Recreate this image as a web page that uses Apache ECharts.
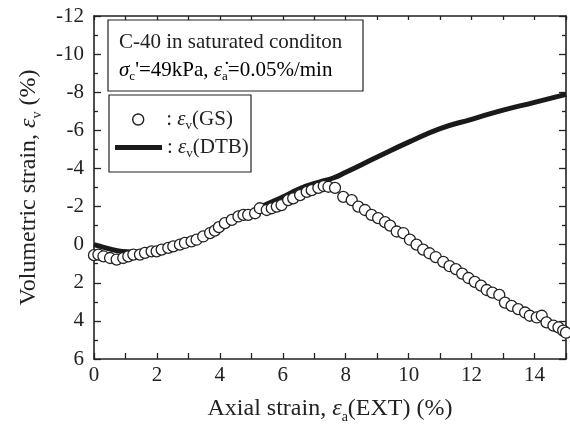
<!DOCTYPE html>
<html>
<head>
<meta charset="utf-8">
<script src="https://cdn.jsdelivr.net/npm/echarts@6/dist/echarts.min.js"></script>
<style>html,body{margin:0;padding:0;background:#fff;}#c{width:570px;height:429px;}</style>
</head>
<body>
<div id="c"></div>
<script>
// GS (volumetric strain from gauge) data
var gsX = [0.00,0.14,0.30,0.51,0.72,0.93,1.09,1.25,1.46,1.62,1.83,1.99,2.15,2.36,2.52,2.73,2.89,3.10,3.26,3.47,3.69,3.84,3.97,4.16,4.38,4.59,4.75,4.90,5.12,5.27,5.49,5.65,5.81,5.96,6.17,6.33,6.55,6.76,6.92,7.13,7.30,7.45,7.66,7.92,8.19,8.40,8.61,8.82,9.03,9.25,9.41,9.62,9.83,10.04,10.25,10.46,10.66,10.86,11.10,11.30,11.50,11.70,11.90,12.10,12.30,12.48,12.66,12.88,13.06,13.27,13.48,13.70,13.85,14.07,14.23,14.38,14.60,14.76,14.91,15.00];
var gsV = [0.55,0.52,0.61,0.70,0.78,0.70,0.61,0.52,0.52,0.43,0.35,0.35,0.26,0.17,0.09,0.00,-0.09,-0.17,-0.26,-0.43,-0.61,-0.74,-0.92,-1.13,-1.30,-1.48,-1.56,-1.56,-1.65,-1.91,-1.82,-1.91,-2.00,-2.08,-2.34,-2.43,-2.60,-2.77,-2.86,-2.98,-3.08,-3.04,-2.98,-2.51,-2.34,-2.00,-1.82,-1.56,-1.39,-1.18,-1.00,-0.69,-0.61,-0.26,0.00,0.26,0.45,0.65,0.90,1.13,1.28,1.52,1.75,1.95,2.15,2.38,2.52,2.64,3.04,3.21,3.38,3.56,3.73,3.82,3.73,4.08,4.25,4.34,4.51,4.62];
// DTB data
var dtbX = [0,0.4,0.9,1.5,2,2.5,3,3.5,4,4.5,5,5.4,6,6.55,7.18,7.6,8,9,10,11,12,13,14,15];
var dtbV = [0,0.18,0.36,0.40,0.28,0.08,-0.15,-0.45,-0.85,-1.30,-1.70,-2.05,-2.50,-2.95,-3.30,-3.50,-3.80,-4.60,-5.38,-6.09,-6.58,-7.06,-7.47,-7.89];
var xTicks = [0,2,4,6,8,10,12,14];
var yTicks = [-12,-10,-8,-6,-4,-2,0,2,4,6];

function pairs(a,b){ return a.map(function(v,i){ return [v,b[i]]; }); }

var FF = 'Liberation Serif';
var C = '#222';
var richBase = {
  t: {fontFamily: FF, fontSize: 24, color: C, lineHeight: 30},
  e: {fontFamily: FF, fontSize: 24, color: C, fontStyle: 'italic', lineHeight: 30},
  s: {fontFamily: FF, fontSize: 14, color: C, lineHeight: 14, verticalAlign: 'bottom'}
};
var richBox = {
  t: {fontFamily: FF, fontSize: 21, color: C, lineHeight: 26},
  e: {fontFamily: FF, fontSize: 21, color: C, fontStyle: 'italic', lineHeight: 26},
  s: {fontFamily: FF, fontSize: 13, color: C, lineHeight: 13, verticalAlign: 'bottom'}
};
function legendFmt(n){ return '{t|: }{e|ε}{s|v}{t|(' + n + ')}'; }

var chart = echarts.init(document.getElementById('c'));
var axisCommon = {
  type: 'value',
  axisLine: {show: true, onZero: false, lineStyle: {color: C, width: 1.6}},
  splitLine: {show: false}
};
chart.setOption({
  animation: false,
  backgroundColor: '#fff',
  grid: {left: 94, right: 4, top: 16, bottom: 67, containLabel: false},
  xAxis: [
    Object.assign({}, axisCommon, {
      position: 'bottom', min: 0, max: 15, interval: 1,
      axisTick: {show: true, inside: true, length: 6, lineStyle: {color: C, width: 1.3}},
      axisLabel: {fontFamily: FF, fontSize: 21, color: C, margin: 6,
        formatter: function(v){ return xTicks.indexOf(v) >= 0 ? String(v) : ''; }},
      name: '{t|Axial strain, }{e|ε}{s|a}{t|(EXT) (%)}',
      nameLocation: 'middle', nameGap: 35,
      nameTextStyle: {rich: richBase}
    }),
    Object.assign({}, axisCommon, {
      position: 'top', min: 0, max: 15, interval: 1,
      axisTick: {show: true, inside: true, length: 4, lineStyle: {color: C, width: 1.3}},
      axisLabel: {show: false}
    })
  ],
  yAxis: [
    Object.assign({}, axisCommon, {
      position: 'left', min: -12, max: 6, interval: 2, inverse: true,
      axisTick: {show: true, inside: true, length: 7, lineStyle: {color: C, width: 1.3}},
      minorTick: {show: true, splitNumber: 2, length: 4, lineStyle: {color: C, width: 1.3}},
      axisLabel: {fontFamily: FF, fontSize: 21, color: C, margin: 10,
        formatter: function(v){ return yTicks.indexOf(v) >= 0 ? String(v) : ''; }},
      name: '{t|Volumetric strain, }{e|ε}{s|v}{t| (%)}',
      nameLocation: 'middle', nameGap: 50,
      nameTextStyle: {rich: richBase}
    }),
    Object.assign({}, axisCommon, {
      position: 'right', min: -12, max: 6, interval: 2, inverse: true,
      axisTick: {show: true, inside: true, length: 7, lineStyle: {color: C, width: 1.3}},
      minorTick: {show: true, splitNumber: 2, length: 4, lineStyle: {color: C, width: 1.3}},
      axisLabel: {show: false}
    })
  ],
  legend: [
    {
      show: true, orient: 'vertical', left: 132, top: 109, z: 30, padding: 0,
      itemWidth: 46, itemHeight: 11,
      data: [{name: 'GS', icon: 'circle', itemStyle: {color: '#fff', borderColor: C, borderWidth: 1.4}}],
      formatter: legendFmt, textStyle: {rich: richBox}
    },
    {
      show: true, orient: 'vertical', left: 115, top: 137, z: 30, padding: 0,
      itemWidth: 47, itemHeight: 5,
      data: [{name: 'DTB', icon: 'rect', itemStyle: {color: '#1a1a1a', borderWidth: 0}}],
      formatter: legendFmt, textStyle: {rich: richBox}
    }
  ],
  graphic: [
    {type: 'rect', z: 10, shape: {x: 108, y: 20, width: 255, height: 71},
      style: {fill: '#fff', stroke: C, lineWidth: 1.2}},
    {type: 'text', z: 11, x: 119, y: 42,
      style: {text: 'C-40 in saturated conditon', fontFamily: FF, fontSize: 21, fill: C, verticalAlign: 'middle'}},
    {type: 'text', z: 11, x: 119, y: 70,
      style: {text: '{e|σ}{s|c}{t|\'=49kPa, }{e|ε\u0307}{s|a}{t|=0.05%/min}', rich: richBox, verticalAlign: 'middle'}},
    {type: 'rect', z: 10, shape: {x: 109, y: 95, width: 142, height: 77},
      style: {fill: '#fff', stroke: C, lineWidth: 1.2}}
  ],
  series: [
    {name: 'DTB', type: 'line', xAxisIndex: 0, yAxisIndex: 0, data: pairs(dtbX, dtbV),
      showSymbol: false, symbol: 'none', smooth: true, z: 2,
      lineStyle: {color: '#1a1a1a', width: 5}},
    {name: 'GS', type: 'scatter', xAxisIndex: 0, yAxisIndex: 0, data: pairs(gsX, gsV),
      symbol: 'circle', symbolSize: 11, symbolKeepAspect: true, z: 3,
      itemStyle: {color: '#fff', borderColor: C, borderWidth: 1.3, opacity: 1}}
  ]
});
</script>
</body>
</html>
